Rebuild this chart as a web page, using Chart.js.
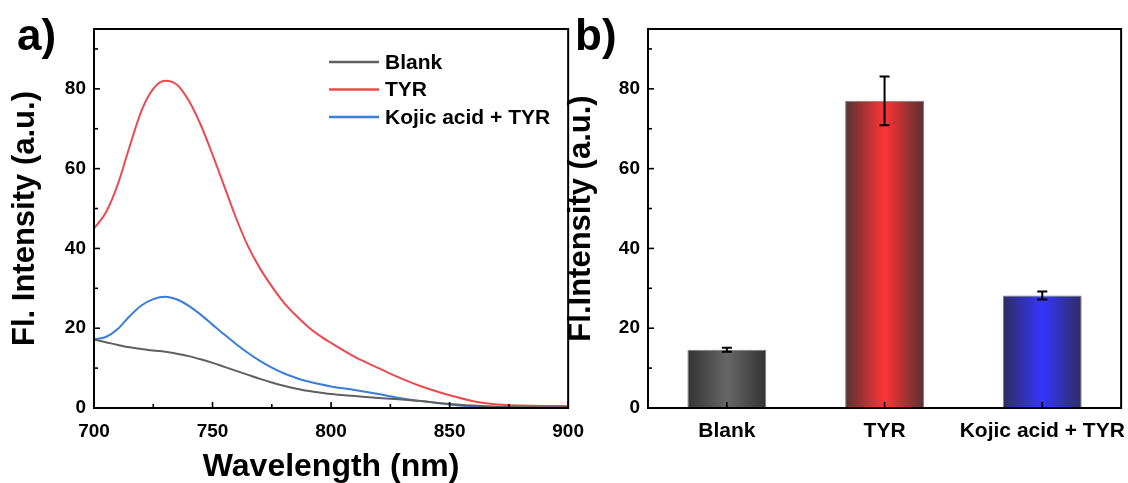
<!DOCTYPE html>
<html>
<head>
<meta charset="utf-8">
<script src="https://cdn.jsdelivr.net/npm/chart.js@4.4.0/dist/chart.umd.min.js"></script>
<style>
  body { margin: 0; background: #fff; width: 1128px; height: 483px; overflow: hidden; position: relative; }
  .box { position: absolute; top: 0; height: 483px; }
  #boxA { left: 0; width: 596px; }
  #boxB { left: 560px; width: 577px; }
</style>
</head>
<body>
<div class="box" id="boxA"><canvas id="chartA"></canvas></div>
<div class="box" id="boxB"><canvas id="chartB"></canvas></div>
<script>
// spectra (panel a)
const wavelengths = [700, 705, 710, 715, 720, 725, 730, 735, 740, 745, 750, 755, 760, 765, 770, 775, 780, 785, 790, 795, 800,
  810, 820, 830, 840, 850, 860, 870, 880, 890, 900];
const blank = [17.2, 16.5, 15.8, 15.2, 14.8, 14.4, 14.1, 13.6, 13.0, 12.2, 11.3, 10.3, 9.3, 8.3, 7.3, 6.4, 5.6, 4.9, 4.3, 3.9, 3.5,
  3.0, 2.5, 2.1, 1.6, 1.0, 0.6, 0.3, 0.2, 0.2, 0.2];
const tyr = [45, 49, 56, 65.5, 74.5, 80, 82, 81, 77, 71, 63.5, 55.5, 47.5, 40.5, 35, 30.5, 26.5, 23.3, 20.5, 18.2, 16.3,
  12.8, 10, 7.3, 5, 3.2, 1.7, 0.9, 0.6, 0.5, 0.5];
const kojic = [17.2, 17.8, 19.8, 23, 25.7, 27.3, 27.9, 27.2, 25.6, 23.4, 20.9, 18.4, 16.0, 13.8, 11.8, 10.1, 8.7, 7.6, 6.7, 6.0, 5.4,
  4.5, 3.5, 2.4, 1.6, 0.9, 0.4, 0.2, 0.2, 0.2, 0.2];

// bars (panel b)
const barLabels = ["Blank", "TYR", "Kojic acid + TYR"];
const barValues = [14.6, 77, 28.2];
const barErrors = [0.5, 6.1, 1.0];

// ticks
const yTicks = [0, 20, 40, 60, 80];
const yMinor = [10, 30, 50, 70, 90];
const xTicks = [700, 750, 800, 850, 900];
const xMinor = [725, 775, 825, 875];

const lineColors = ["#606060", "#ec4a4f", "#3a7ddc"];
const barEdge = ["#333333", "#563232", "#2e2e60"];
const barMid = ["#676767", "#ff3434", "#3535ff"];

Chart.defaults.font.family = '"Liberation Sans", Arial, sans-serif';
Chart.defaults.font.weight = "bold";
Chart.defaults.color = "#000";

const tickFont = { size: 19, weight: "bold" };
const catFont = { size: 21, weight: "bold" };
const titleFont = { size: 31, weight: "bold", lineHeight: 1 };

// frame + inward tick marks
const frameTicks = {
  id: "frameTicks",
  afterDraw(chart, args, opts) {
    const { ctx, chartArea: a, scales } = chart;
    const line = (x1, y1, x2, y2) => { ctx.beginPath(); ctx.moveTo(x1, y1); ctx.lineTo(x2, y2); ctx.stroke(); };
    ctx.save();
    ctx.strokeStyle = "#000";
    ctx.lineWidth = 1.6;
    yTicks.forEach(v => { const p = scales.y.getPixelForValue(v); line(a.left, p, a.left + 6, p); });
    yMinor.forEach(v => { const p = scales.y.getPixelForValue(v); line(a.left, p, a.left + 4, p); });
    (opts.xMajor || []).forEach(v => { const p = scales.x.getPixelForValue(v); line(p, a.bottom, p, a.bottom - 6); });
    (opts.xMinor || []).forEach(v => { const p = scales.x.getPixelForValue(v); line(p, a.bottom, p, a.bottom - 4); });
    ctx.lineWidth = 2;
    ctx.strokeRect(a.left, a.top, a.right - a.left, a.bottom - a.top);
    ctx.restore();
  }
};

// panel letter and in-plot legend
const panelText = {
  id: "panelText",
  afterDraw(chart, args, opts) {
    const ctx = chart.ctx;
    ctx.save();
    ctx.fillStyle = "#000";
    ctx.font = 'bold 44px "Liberation Sans", Arial, sans-serif';
    ctx.textBaseline = "alphabetic";
    ctx.fillText(opts.label, opts.x, opts.y);
    if (opts.legend) {
      ctx.font = 'bold 21px "Liberation Sans", Arial, sans-serif';
      ctx.textBaseline = "middle";
      chart.data.datasets.forEach((ds, i) => {
        const ly = opts.legend.y + i * opts.legend.gap;
        ctx.strokeStyle = ds.borderColor;
        ctx.lineWidth = 2.5;
        ctx.beginPath();
        ctx.moveTo(opts.legend.x, ly);
        ctx.lineTo(opts.legend.x + 50, ly);
        ctx.stroke();
        ctx.fillText(ds.label, opts.legend.x + 56, ly + 1);
      });
    }
    ctx.restore();
  }
};

// error bars on the bar chart
const errorBars = {
  id: "errorBars",
  afterDatasetsDraw(chart) {
    const { ctx, scales: { y } } = chart;
    const meta = chart.getDatasetMeta(0);
    ctx.save();
    ctx.strokeStyle = "#000";
    ctx.lineWidth = 2;
    meta.data.forEach((bar, i) => {
      const top = y.getPixelForValue(barValues[i] + barErrors[i]);
      const bot = y.getPixelForValue(barValues[i] - barErrors[i]);
      ctx.beginPath();
      ctx.moveTo(bar.x, top); ctx.lineTo(bar.x, bot);
      ctx.moveTo(bar.x - 5, top); ctx.lineTo(bar.x + 5, top);
      ctx.moveTo(bar.x - 5, bot); ctx.lineTo(bar.x + 5, bot);
      ctx.stroke();
    });
    ctx.restore();
  }
};

const yScale = (width, titleText, titlePad) => ({
  min: 0,
  max: 95,
  afterBuildTicks: s => { s.ticks = yTicks.map(v => ({ value: v })); },
  afterFit: s => { s.width = width; },
  grid: { display: false, drawTicks: false },
  border: { display: false },
  ticks: { color: "#000", font: tickFont, padding: 8 },
  title: { display: true, text: titleText, color: "#000", font: titleFont, padding: { top: titlePad, bottom: 0 } }
});

new Chart(document.getElementById("chartA"), {
  type: "line",
  data: {
    datasets: [
      { label: "Blank", data: wavelengths.map((w, i) => ({ x: w, y: blank[i] })), borderColor: lineColors[0] },
      { label: "TYR", data: wavelengths.map((w, i) => ({ x: w, y: tyr[i] })), borderColor: lineColors[1] },
      { label: "Kojic acid + TYR", data: wavelengths.map((w, i) => ({ x: w, y: kojic[i] })), borderColor: lineColors[2] }
    ]
  },
  options: {
    responsive: true,
    maintainAspectRatio: false,
    animation: false,
    layout: { padding: { top: 29, right: 5, left: 0, bottom: 0 } },
    elements: { point: { radius: 0 }, line: { borderWidth: 2, cubicInterpolationMode: "monotone" } },
    plugins: {
      legend: { display: false },
      tooltip: { enabled: false },
      frameTicks: { xMajor: xTicks, xMinor: xMinor },
      panelText: { label: "a)", x: 17, y: 50, legend: { x: 329, y: 62, gap: 27.5 } }
    },
    scales: {
      x: {
        type: "linear",
        min: 700,
        max: 900,
        afterBuildTicks: s => { s.ticks = xTicks.map(v => ({ value: v })); },
        afterFit: s => { s.height = 75; },
        grid: { display: false, drawTicks: false },
        border: { display: false },
        ticks: { color: "#000", font: tickFont, padding: 12 },
        title: { display: true, text: "Wavelength (nm)", color: "#000", font: { size: 32, weight: "bold", lineHeight: 1 }, padding: { top: 0, bottom: 0 } }
      },
      y: yScale(94, "Fl. Intensity (a.u.)", 10)
    }
  },
  plugins: [frameTicks, panelText]
});

new Chart(document.getElementById("chartB"), {
  type: "bar",
  data: {
    labels: barLabels,
    datasets: [{
      label: "Fl.Intensity",
      data: barValues,
      barPercentage: 0.5,
      categoryPercentage: 1,
      borderColor: "#7a7a7a",
      borderWidth: 1,
      backgroundColor: c => {
        const i = c.dataIndex || 0;
        const chart = c.chart;
        const a = chart.chartArea;
        if (!a || !chart.scales.x) return barMid[i];
        const cx = chart.scales.x.getPixelForValue(i);
        const half = (a.right - a.left) / barLabels.length * 0.25;
        const g = chart.ctx.createLinearGradient(cx - half, 0, cx + half, 0);
        g.addColorStop(0, barEdge[i]);
        g.addColorStop(0.5, barMid[i]);
        g.addColorStop(1, barEdge[i]);
        return g;
      }
    }]
  },
  options: {
    responsive: true,
    maintainAspectRatio: false,
    animation: false,
    layout: { padding: { top: 29, right: 7, left: 0, bottom: 0 } },
    plugins: {
      legend: { display: false },
      tooltip: { enabled: false },
      frameTicks: { xMajor: barLabels.map((l, i) => i) },
      panelText: { label: "b)", x: 15, y: 50 }
    },
    scales: {
      x: {
        afterFit: s => { s.height = 75; },
        grid: { display: false, drawTicks: false },
        border: { display: false },
        ticks: { color: "#000", font: catFont, padding: 11, maxRotation: 0, minRotation: 0, autoSkip: false }
      },
      y: yScale(88, "Fl.Intensity (a.u.)", 6)
    }
  },
  plugins: [frameTicks, panelText, errorBars]
});
</script>
</body>
</html>
